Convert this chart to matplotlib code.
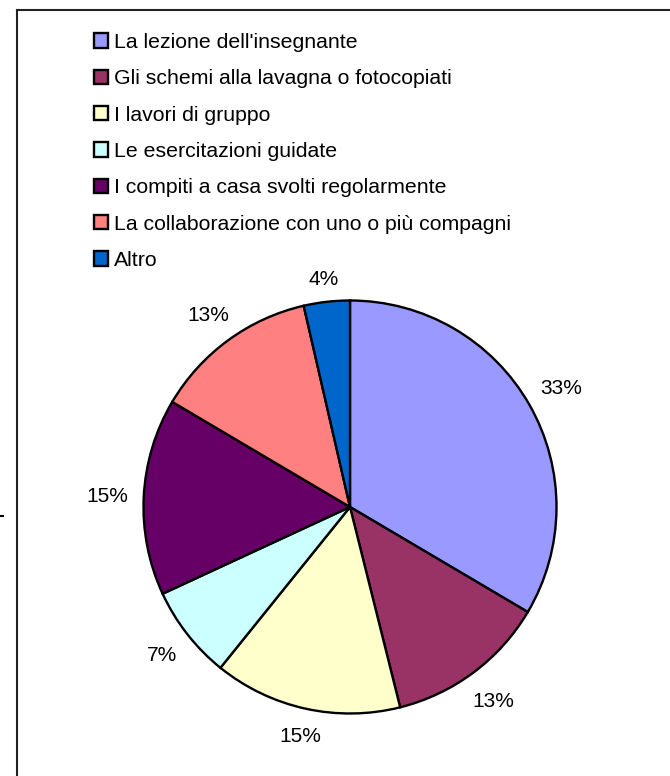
import matplotlib
matplotlib.use("Agg")
import numpy as np
import matplotlib.pyplot as plt
from matplotlib.patches import Patch
from matplotlib.lines import Line2D

plt.rcParams['font.family'] = ['Liberation Sans', 'DejaVu Sans']

categories = [
    "La lezione dell'insegnante",
    "Gli schemi alla lavagna o fotocopiati",
    "I lavori di gruppo",
    "Le esercitazioni guidate",
    "I compiti a casa svolti regolarmente",
    "La collaborazione con uno o più compagni",
    "Altro",
]
values = [33.49, 12.6, 14.7, 7.3, 15.4, 12.9, 3.6]
colors = ["#9999FF", "#993366", "#FFFFCC", "#CCFFFF", "#660066", "#FF8080", "#0066CC"]

W, H = 670, 776
fig = plt.figure(figsize=(W / 100, H / 100), dpi=100)
cx, cy, r = 350, 507, 206.5
ax = fig.add_axes([(cx - r) / W, (H - cy - r) / H, 2 * r / W, 2 * r / H])

wedges, _ = ax.pie(values, colors=colors, startangle=90, counterclock=False,
                   wedgeprops=dict(edgecolor="black", linewidth=1.7))
ax.set_xlim(-1, 1)
ax.set_ylim(-1, 1)
ax.set_aspect("equal")
ax.axis("off")

# percentage labels placed just outside the pie, Excel-like
fig.canvas.draw()
renderer = fig.canvas.get_renderer()
px_per_unit = ax.transData.transform((1, 0))[0] - ax.transData.transform((0, 0))[0]
total = sum(values)
gap = 15.0
lab_fs = 15
cap = 0.72 * lab_fs * 100 / 72
for w, v in zip(wedges, values):
    ang = np.deg2rad((w.theta1 + w.theta2) / 2)
    c, s = np.cos(ang), np.sin(ang)
    t = ax.text(0, 0, "%.0f%%" % (100 * v / total), ha="center", va="baseline",
                fontsize=lab_fs, color="black")
    bb = t.get_window_extent(renderer)
    ext = bb.width / 2 * abs(c) + cap / 2 * abs(s)
    d = 1 + (gap + ext) / px_per_unit
    t.set_position((d * c, d * s - (cap / 2) / px_per_unit))

handles = [Patch(facecolor=col, edgecolor="black", linewidth=1.7) for col in colors]
fig.legend(handles, categories, loc="upper left",
           bbox_to_anchor=(94 / W, 1 - 33 / H), frameon=False,
           fontsize=15.3, handlelength=0.68, handleheight=0.68,
           handletextpad=0.28, labelspacing=0.815, borderaxespad=0,
           borderpad=0)

# chart frame (top and left edges visible)
fig.add_artist(Line2D([17 / W, 1], [1 - 9.5 / H, 1 - 9.5 / H], transform=fig.transFigure,
                      color="#222222", linewidth=1.5))
fig.add_artist(Line2D([17 / W, 17 / W], [0, 1 - 9.5 / H], transform=fig.transFigure,
                      color="#222222", linewidth=1.5))
fig.add_artist(Line2D([0, 2.5 / W], [1 - 516 / H, 1 - 516 / H], transform=fig.transFigure,
                      color="black", linewidth=1.5))

fig.savefig("out.png", dpi=100)
